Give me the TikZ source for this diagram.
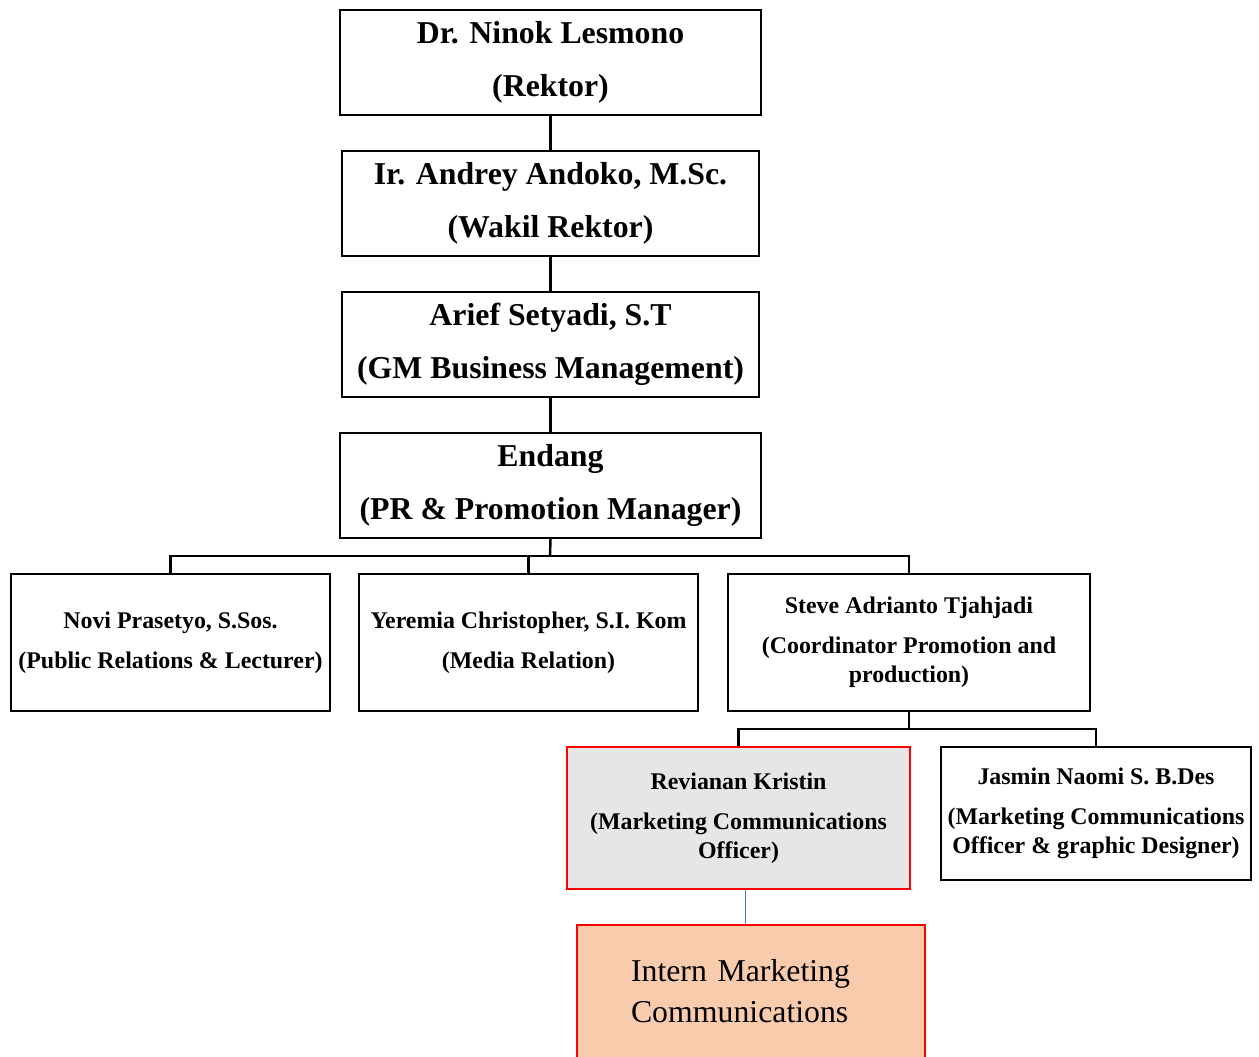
\documentclass[tikz,border=0pt]{standalone}
\usepackage{fontspec}
\setmainfont{Liberation Serif}
\definecolor{boxred}{HTML}{FF0000}
\definecolor{revgray}{HTML}{E6E6E6}
\definecolor{peach}{HTML}{F8CBAD}
\definecolor{linkblue}{HTML}{4472C4}
\begin{document}
\begin{tikzpicture}[x=0.02cm,y=-0.02cm,
  bigbox/.style={draw=black,line width=1.4pt,fill=white,align=center,inner sep=0pt,
    minimum height=2.10cm,font=\fontsize{18.1}{30}\selectfont\bfseries},
  smallbox/.style={draw=black,line width=1.4pt,fill=white,align=center,inner sep=0pt,
    font=\fontsize{13.6}{16.4}\selectfont\bfseries},
  conn/.style={draw=black,line width=1.4pt}]
\useasboundingbox (0,0) rectangle (1259,1057);
\clip (0,0) rectangle (1259,1057);

\node[bigbox,minimum width=8.42cm] (R) at (550.5,62.5) {Dr. Ninok Lesmono\\(Rektor)};
\node[bigbox,minimum width=8.34cm] (W) at (550.5,203.5) {Ir. Andrey Andoko, M.Sc.\\(Wakil Rektor)};
\node[bigbox,minimum width=8.34cm] (A) at (550.5,344.5) {Arief Setyadi, S.T\\(GM Business Management)};
\node[bigbox,minimum width=8.42cm] (E) at (550.5,485.5) {Endang\\(PR \& Promotion Manager)};

\node[smallbox,minimum width=6.38cm,minimum height=2.74cm] (N) at (170.5,642.5)
  {Novi Prasetyo, S.Sos.\\[6.3pt](Public Relations \& Lecturer)};
\node[smallbox,minimum width=6.78cm,minimum height=2.74cm] (Y) at (528.5,642.5)
  {Yeremia Christopher, S.I. Kom\\[6.3pt](Media Relation)};
\node[smallbox,minimum width=7.24cm,minimum height=2.74cm] (S) at (909,642.5)
  {Steve Adrianto Tjahjadi\\[6.3pt](Coordinator Promotion and\\production)};

\node[smallbox,draw=boxred,fill=revgray,minimum width=6.86cm,minimum height=2.84cm] (Rv) at (738.5,818)
  {Revianan Kristin\\[6.3pt](Marketing Communications\\Officer)};
\node[smallbox,minimum width=6.20cm,minimum height=2.66cm] (J) at (1096,813.5)
  {Jasmin Naomi S. B.Des\\[6.3pt](Marketing Communications\\Officer \& graphic Designer)};

\node[draw=boxred,line width=1.4pt,fill=peach,minimum width=6.96cm,minimum height=2.66cm,
  text width=4.8cm,inner xsep=1.08cm,inner ysep=0pt,align=left,
  font=\fontsize{18.1}{23.2}\selectfont] (I) at (751,991.5)
  {Intern Marketing\\Communications};

% connectors
\draw[conn] (R.south) -- (W.north);
\draw[conn] (W.south) -- (A.north);
\draw[conn] (A.south) -- (E.north);
\coordinate (bus) at (550,556);
\draw[conn] (E.south) -- (bus);
\draw[conn] (N.north) -- (N.north |- bus) -- (S.north |- bus) -- (S.north);
\draw[conn] (Y.north) -- (Y.north |- bus);
\coordinate (bus2) at (909,729);
\draw[conn] (S.south) -- (bus2);
\draw[conn] (Rv.north) -- (Rv.north |- bus2) -- (J.north |- bus2) -- (J.north);
\coordinate (ic) at (745,900);
\draw[linkblue,line width=0.5pt] (Rv.south -| ic) -- (I.north -| ic);
\end{tikzpicture}
\end{document}
